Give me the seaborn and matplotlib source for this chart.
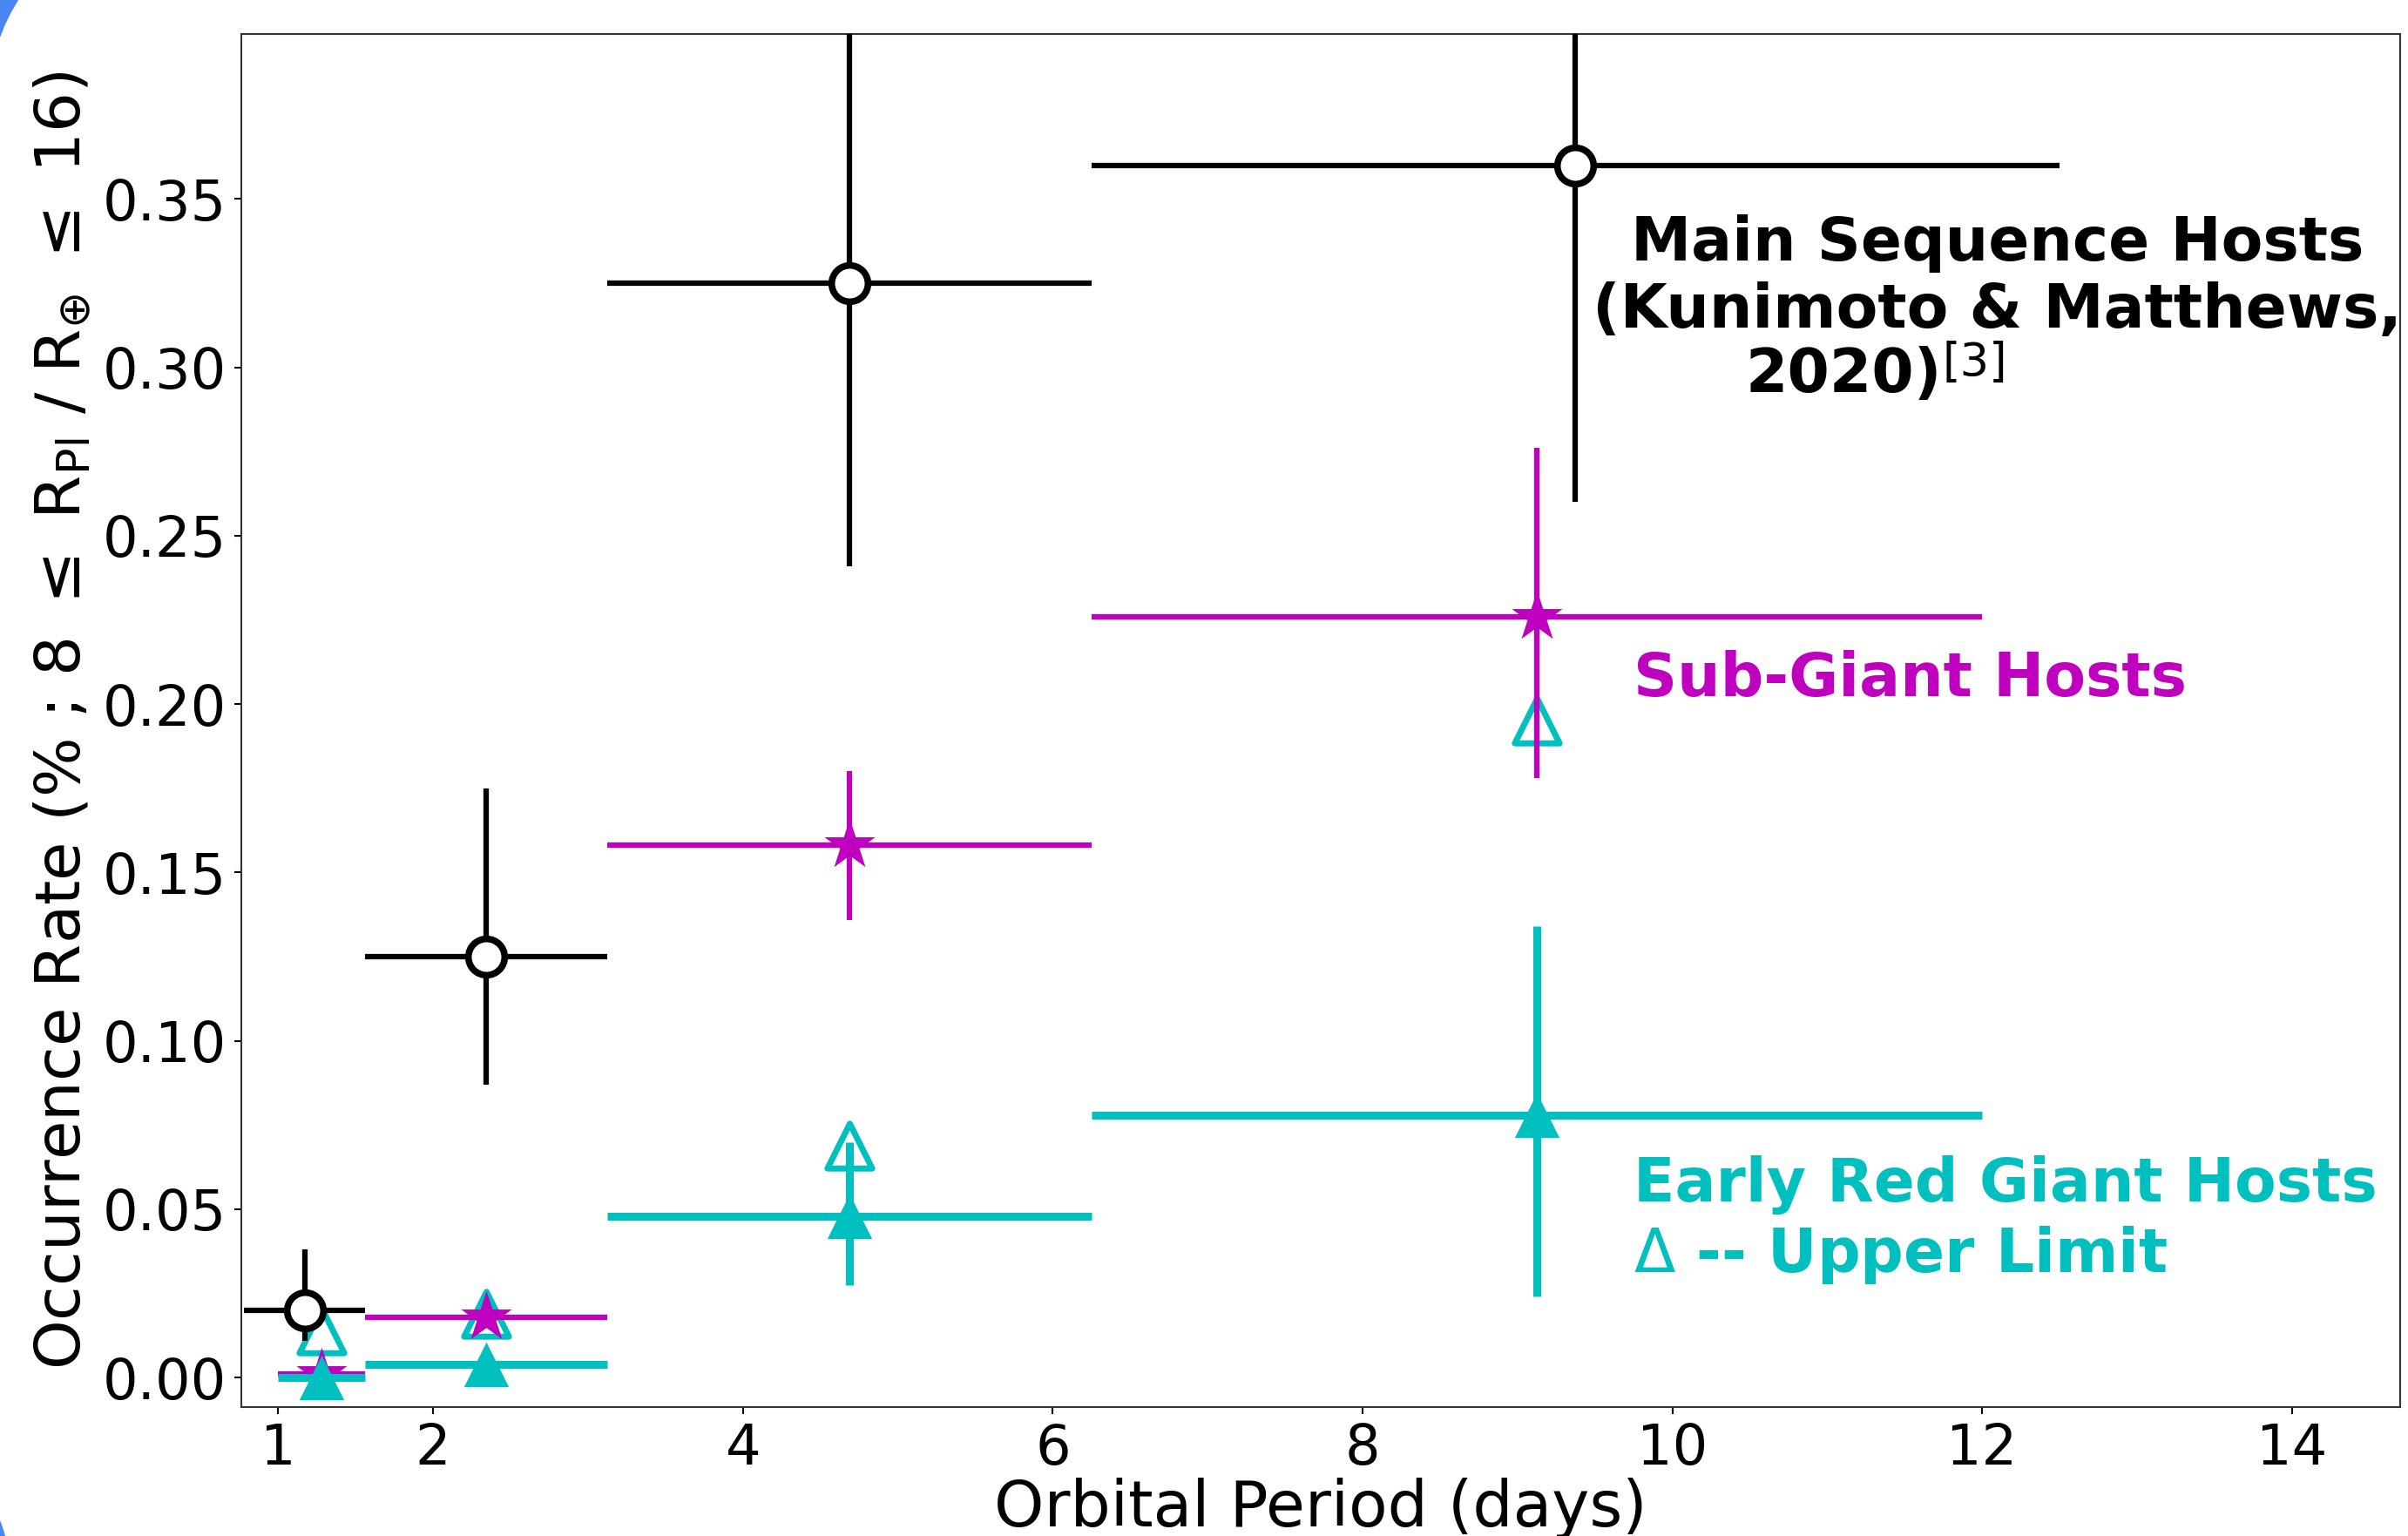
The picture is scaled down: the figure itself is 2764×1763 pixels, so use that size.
import numpy as np
import matplotlib
matplotlib.use('Agg')
import matplotlib.pyplot as plt
from matplotlib.patches import Polygon
import seaborn as sns

# Main sequence hosts (Kunimoto & Matthews 2020)
period_ms = [1.17, 2.34, 4.69, 9.375]
bin_lo_ms = [0.78, 1.56, 3.125, 6.25]
bin_hi_ms = [1.56, 3.125, 6.25, 12.5]
rate_ms = [0.020, 0.125, 0.325, 0.360]
err_lo_ms = [0.009, 0.038, 0.084, 0.100]
err_hi_ms = [0.018, 0.050, 0.090, 0.100]

# sub-giant and early red giant hosts share bins
period_g = [1.28, 2.34, 4.69, 9.125]
bin_lo_g = [1.0, 1.56, 3.125, 6.25]
bin_hi_g = [1.56, 3.125, 6.25, 12.0]

rate_sg = [0.001, 0.018, 0.158, 0.226]
err_lo_sg = [0.0, 0.0, 0.022, 0.048]
err_hi_sg = [0.0, 0.0, 0.022, 0.050]

rate_rg = [0.0, 0.004, 0.048, 0.078]
err_lo_rg = [0.0, 0.0, 0.0205, 0.054]
err_hi_rg = [0.0, 0.0, 0.022, 0.056]
upper_rg = [0.014, 0.019, 0.069, 0.195]

x_ticks = [1, 2, 4, 6, 8, 10, 12, 14]
y_ticks = [0.00, 0.05, 0.10, 0.15, 0.20, 0.25, 0.30, 0.35]

sns.set_style('ticks')
plt.rcParams['font.family'] = ['DejaVu Sans']
plt.rcParams['text.color'] = 'black'
plt.rcParams['axes.labelcolor'] = 'black'
plt.rcParams['xtick.color'] = 'black'
plt.rcParams['ytick.color'] = 'black'

fig = plt.figure(figsize=(27.64, 17.63), dpi=100)
ax = fig.add_axes([0.1001, 0.084, 0.8967, 0.894])

# bits of blue frame showing in the corners of the screenshot
W, H = 2764, 1763
corner_tl = [(0, 0), (21, 0), (13, 14), (6, 28), (0, 43)]
corner_bl = [(0, 1745), (3, 1753), (6, 1763), (0, 1763)]
for pts in (corner_tl, corner_bl):
    fig.patches.append(Polygon([(px / W, 1 - py / H) for px, py in pts], closed=True,
                               transform=fig.transFigure, facecolor='#4a86f0',
                               edgecolor='none'))

def xerr(p, lo, hi):
    p = np.array(p)
    return [p - np.array(lo), np.array(hi) - p]

# upper limits first (hollow triangles)
sns.scatterplot(x=period_g, y=upper_rg, marker='^', s=37**2, facecolor='white',
                edgecolor='c', linewidth=5, ax=ax, zorder=2)

# sub-giants
ax.errorbar(period_g, rate_sg, xerr=xerr(period_g, bin_lo_g, bin_hi_g),
            yerr=[err_lo_sg, err_hi_sg], fmt='none', ecolor='m', elinewidth=4.5,
            capsize=0, zorder=3)
sns.scatterplot(x=period_g, y=rate_sg, marker='*', s=44**2, color='m',
                edgecolor='m', linewidth=0, ax=ax, zorder=4)

# early red giants
ax.errorbar(period_g, rate_rg, xerr=xerr(period_g, bin_lo_g, bin_hi_g),
            yerr=[err_lo_rg, err_hi_rg], fmt='none', ecolor='c', elinewidth=6.5,
            capsize=0, zorder=5)
sns.scatterplot(x=period_g, y=rate_rg, marker='^', s=37**2, color='c',
                edgecolor='c', linewidth=0, ax=ax, zorder=6)

# main sequence
ax.errorbar(period_ms, rate_ms, xerr=xerr(period_ms, bin_lo_ms, bin_hi_ms),
            yerr=[err_lo_ms, err_hi_ms], fmt='none', ecolor='k', elinewidth=4.5,
            capsize=0, zorder=7)
sns.scatterplot(x=period_ms, y=rate_ms, marker='o', s=30**2, facecolor='white',
                edgecolor='k', linewidth=5.5, ax=ax, zorder=8)

ax.set_xlim(0.76, 14.7)
ax.set_ylim(-0.0087, 0.399)
ax.set_xticks(x_ticks)
ax.set_yticks(y_ticks)
ax.set_yticklabels([f'{v:.2f}' for v in y_ticks])
ax.tick_params(labelsize=46, length=6, width=1.5, pad=6)
for s in ax.spines.values():
    s.set_linewidth(1.5)
    s.set_color('#333333')

ax.set_xlabel('Orbital Period (days)', fontsize=52.5, labelpad=2)
ax.set_ylabel(r'Occurrence Rate (% ; 8 $\leq$ R$_{\rm Pl}$ / R$_{\oplus}$ $\leq$ 16)',
              fontsize=52, labelpad=8)

ax.text(12.1, 0.3268, 'Main Sequence Hosts\n(Kunimoto & Matthews,', fontsize=50,
        fontweight='bold', color='k', ha='center', va='center', linespacing=1.2)
yr = ax.text(10.47, 0.2977, '2020)', fontsize=50, fontweight='bold', color='k',
             ha='left', va='center')
ax.annotate('[3]', xy=(1.0, 1.0), xycoords=yr, xytext=(1, 4),
            textcoords='offset points', fontsize=38, color='k', ha='left', va='top')
ax.text(9.75, 0.2073, 'Sub-Giant Hosts', fontsize=50, fontweight='bold', color='m',
        ha='left', va='center')
ax.text(9.75, 0.0466, 'Early Red Giant Hosts\n$\\Delta$ -- Upper Limit', fontsize=50,
        fontweight='bold', color='c', ha='left', va='center', linespacing=1.2)

fig.savefig('out.png', dpi=100)
